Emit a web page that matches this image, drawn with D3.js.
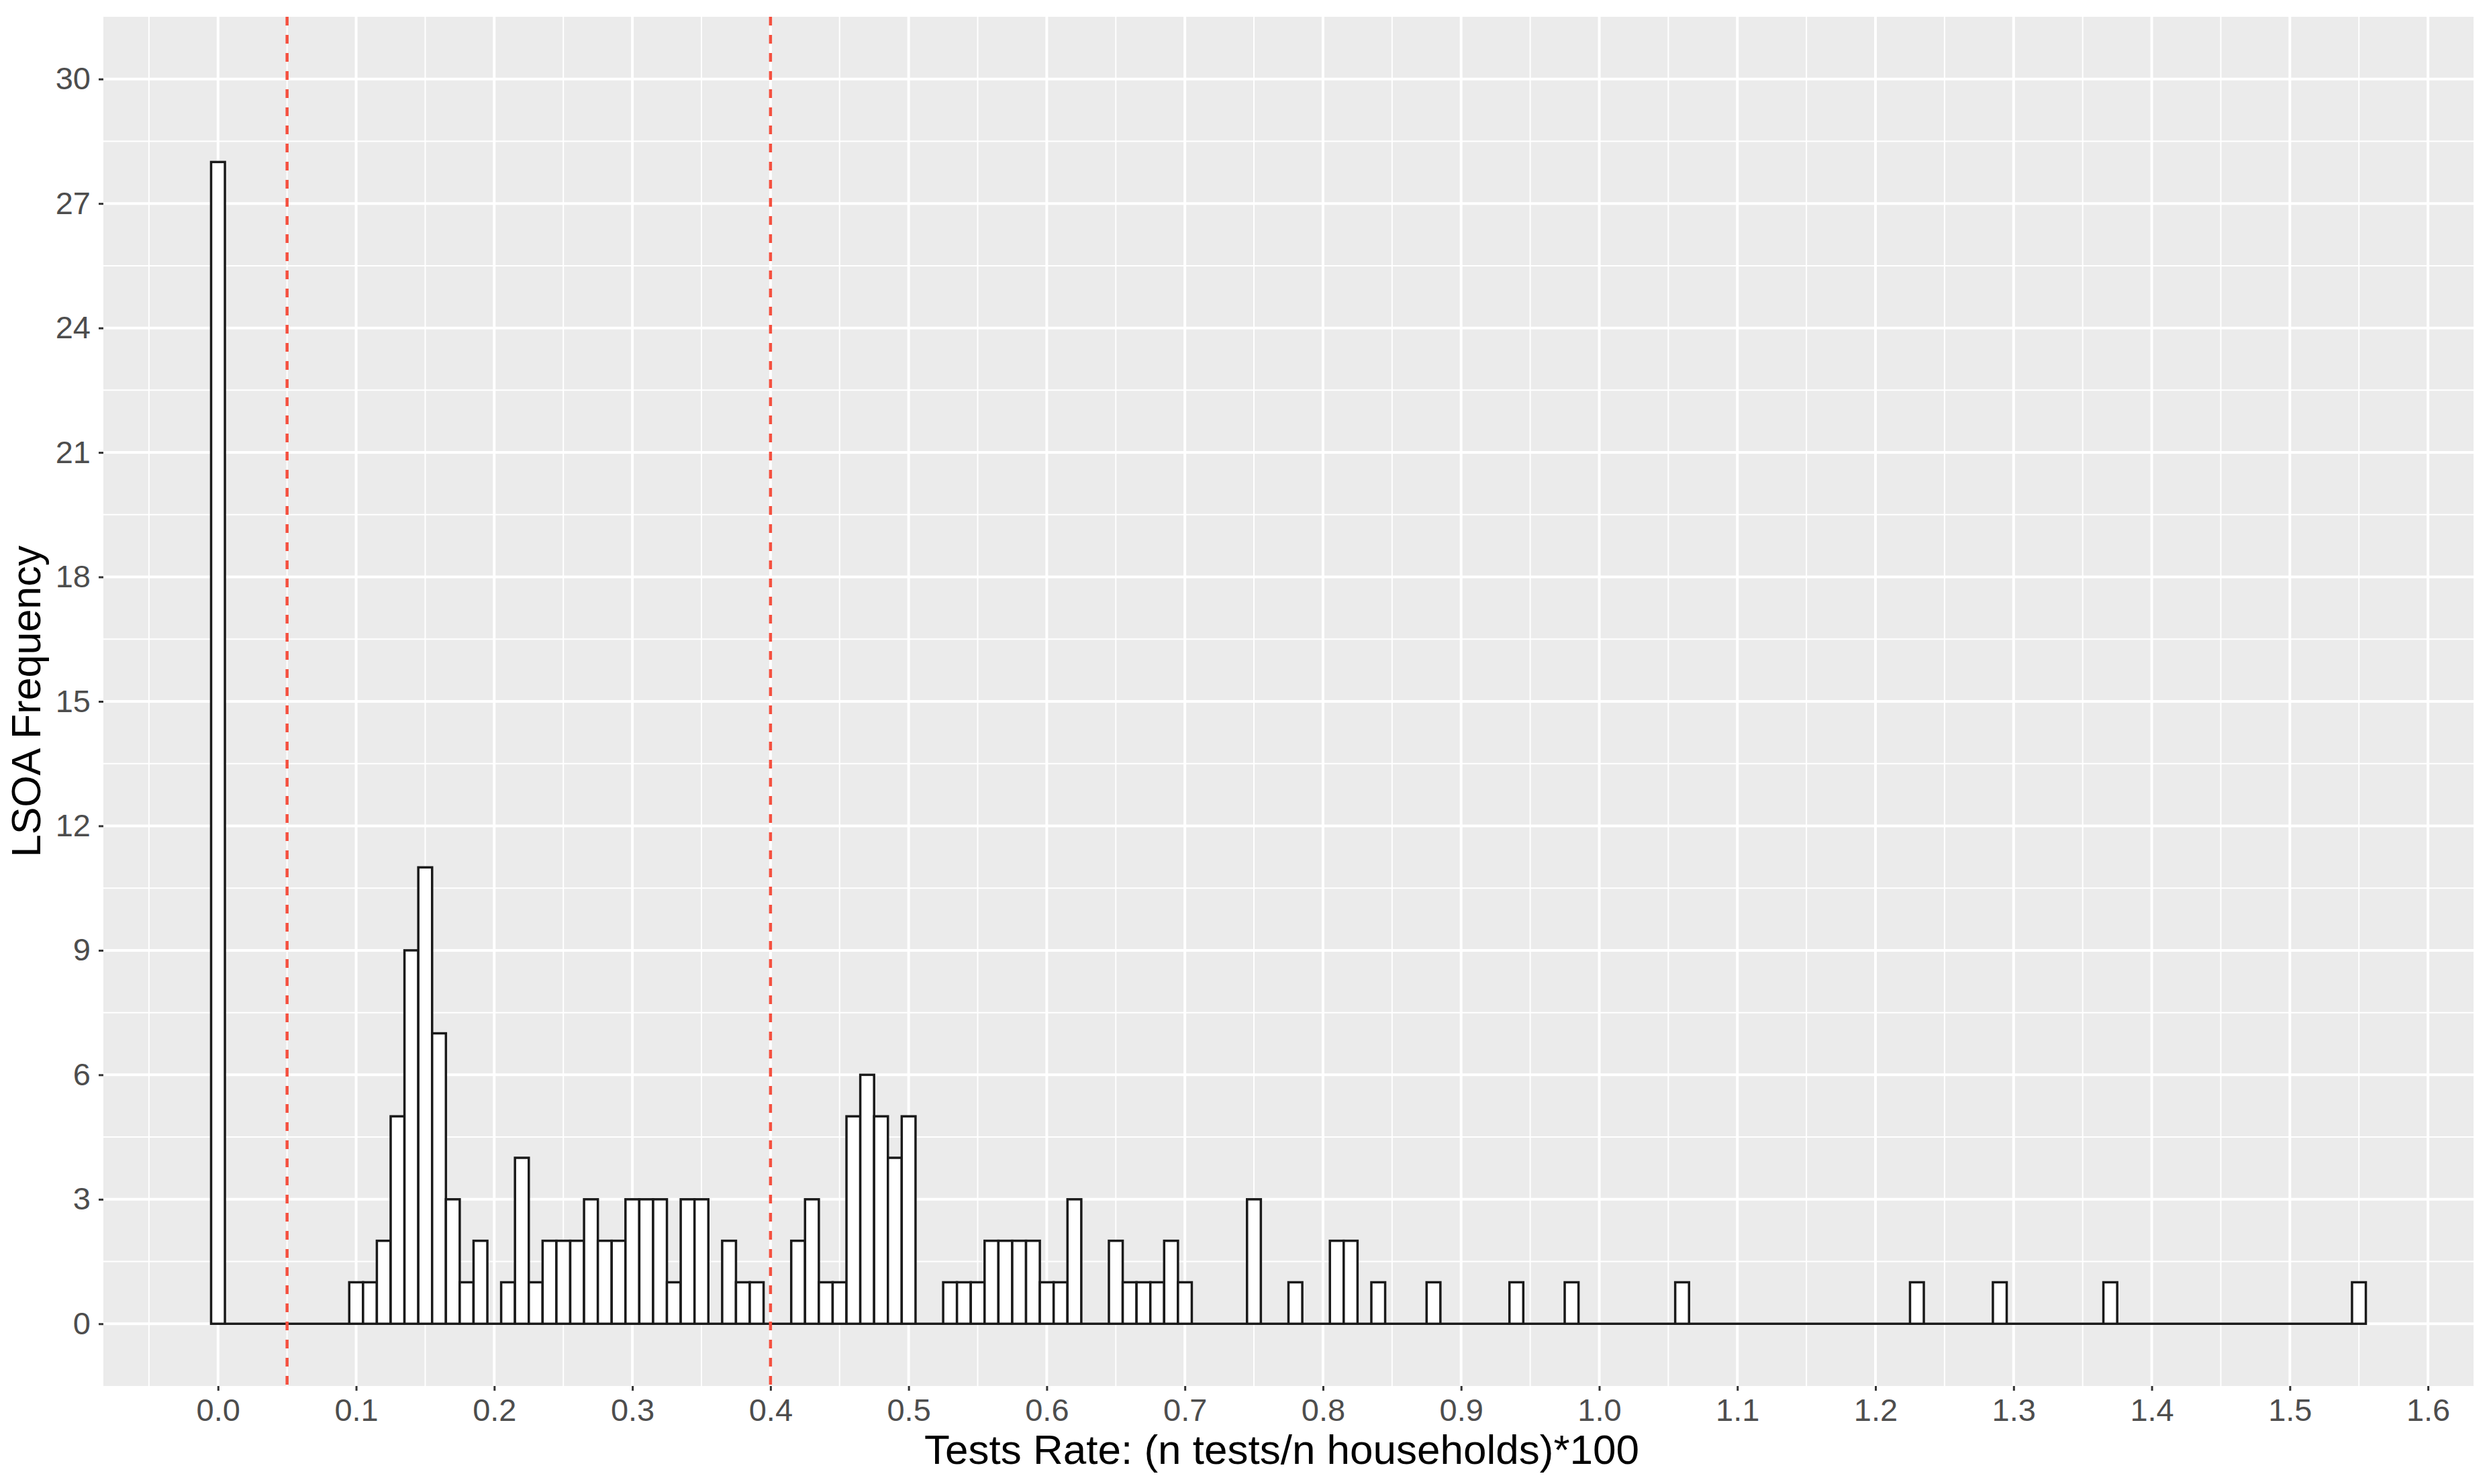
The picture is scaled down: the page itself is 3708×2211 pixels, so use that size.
<!DOCTYPE html>
<html>
<head>
<meta charset="utf-8">
<script src="https://cdn.jsdelivr.net/npm/d3@7"></script>
<style>
  html, body { margin: 0; padding: 0; background: #fff; }
  svg { display: block; font-family: "Liberation Sans", Arial, sans-serif; }
</style>
</head>
<body>
<div id="chart"></div>
<script>
// histogram bins (centre of each 0.01 bin) that have at least one LSOA
const rateBins = [
    0.00, 0.10, 0.11, 0.12, 0.13, 0.14, 0.15, 0.16, 0.17, 0.18, 0.19,
    0.21, 0.22, 0.23, 0.24, 0.25, 0.26, 0.27, 0.28, 0.29, 0.30, 0.31,
    0.32, 0.33, 0.34, 0.35, 0.37, 0.38, 0.39, 0.42, 0.43, 0.44, 0.45,
    0.46, 0.47, 0.48, 0.49, 0.50, 0.53, 0.54, 0.55, 0.56, 0.57, 0.58,
    0.59, 0.60, 0.61, 0.62, 0.65, 0.66, 0.67, 0.68, 0.69, 0.70, 0.75,
    0.78, 0.81, 0.82, 0.84, 0.88, 0.94, 0.98, 1.06, 1.23, 1.29, 1.37,
    1.55
];
const lsoaCounts = [
    28, 1, 1, 2, 5, 9, 11, 7, 3, 1, 2,
    1, 4, 1, 2, 2, 2, 3, 2, 2, 3, 3,
    3, 1, 3, 3, 2, 1, 1, 2, 3, 1, 1,
    5, 6, 5, 4, 5, 1, 1, 1, 2, 2, 2,
    2, 1, 1, 3, 2, 1, 1, 1, 2, 1, 3,
    1, 2, 2, 1, 1, 1, 1, 1, 1, 1, 1,
    1
];
const binWidth = 0.01;
const cutoffs = [0.05, 0.4];

const xTicks = [0, 0.1, 0.2, 0.3, 0.4, 0.5, 0.6, 0.7, 0.8, 0.9, 1.0, 1.1, 1.2, 1.3, 1.4, 1.5, 1.6];
const xMinor = [-0.05, 0.05, 0.15, 0.25, 0.35, 0.45, 0.55, 0.65, 0.75, 0.85, 0.95, 1.05, 1.15, 1.25, 1.35, 1.45, 1.55];
const yTicks = [0, 3, 6, 9, 12, 15, 18, 21, 24, 27, 30];
const yMinor = [1.5, 4.5, 7.5, 10.5, 13.5, 16.5, 19.5, 22.5, 25.5, 28.5];

const xTitle = "Tests Rate: (n tests/n households)*100";
const yTitle = "LSOA Frequency";

const bins = rateBins.map((r, i) => ({ rate: r, count: lsoaCounts[i] }));

//layout
const width = 3708;
const height = 2211;
const margin = { top: 25, right: 23, bottom: 146, left: 154 };
const innerW = width - margin.left - margin.right;
const innerH = height - margin.top - margin.bottom;

// ggplot style 5% expansion
const xLo = d3.min(rateBins) - binWidth / 2;
const xHi = d3.max(rateBins) + binWidth / 2;
const xPad = (xHi - xLo) * 0.05;
const x = d3.scaleLinear()
    .domain([xLo - xPad, xHi + xPad])
    .range([margin.left, margin.left + innerW]);

const yMax = d3.max(yTicks);
const y = d3.scaleLinear()
    .domain([-yMax * 0.05, yMax * 1.05])
    .range([margin.top + innerH, margin.top]);

const svg = d3.select("#chart")
    .append("svg")
    .attr("width", width)
    .attr("height", height);

svg.append("rect")
    .attr("width", width)
    .attr("height", height)
    .attr("fill", "#fff");

// panel
svg.append("rect")
    .attr("x", margin.left)
    .attr("y", margin.top)
    .attr("width", innerW)
    .attr("height", innerH)
    .attr("fill", "#ebebeb");

const grid = svg.append("g");

grid.selectAll(".xminor")
    .data(xMinor)
    .enter()
    .append("line")
    .attr("x1", d => x(d)).attr("x2", d => x(d))
    .attr("y1", margin.top).attr("y2", margin.top + innerH)
    .attr("stroke", "#fff")
    .attr("stroke-width", 2);

grid.selectAll(".yminor")
    .data(yMinor)
    .enter()
    .append("line")
    .attr("x1", margin.left).attr("x2", margin.left + innerW)
    .attr("y1", d => y(d)).attr("y2", d => y(d))
    .attr("stroke", "#fff")
    .attr("stroke-width", 2);

grid.selectAll(".xmajor")
    .data(xTicks)
    .enter()
    .append("line")
    .attr("x1", d => x(d)).attr("x2", d => x(d))
    .attr("y1", margin.top).attr("y2", margin.top + innerH)
    .attr("stroke", "#fff")
    .attr("stroke-width", 4);

grid.selectAll(".ymajor")
    .data(yTicks)
    .enter()
    .append("line")
    .attr("x1", margin.left).attr("x2", margin.left + innerW)
    .attr("y1", d => y(d)).attr("y2", d => y(d))
    .attr("stroke", "#fff")
    .attr("stroke-width", 4);

// zero count bins show up as a flat outline along the baseline
svg.append("line")
    .attr("x1", x(xLo))
    .attr("x2", x(xHi))
    .attr("y1", y(0))
    .attr("y2", y(0))
    .attr("stroke", "#1a1a1a")
    .attr("stroke-width", 3.5);

// bars
svg.append("g")
    .selectAll("rect")
    .data(bins)
    .enter()
    .append("rect")
    .attr("x", d => x(d.rate - binWidth / 2))
    .attr("y", d => y(d.count))
    .attr("width", d => x(d.rate + binWidth / 2) - x(d.rate - binWidth / 2))
    .attr("height", d => y(0) - y(d.count))
    .attr("fill", "#fff")
    .attr("stroke", "#1a1a1a")
    .attr("stroke-width", 3.5);

// cut-off lines
svg.append("g")
    .selectAll("line")
    .data(cutoffs)
    .enter()
    .append("line")
    .attr("x1", d => x(d)).attr("x2", d => x(d))
    .attr("y1", margin.top).attr("y2", margin.top + innerH)
    .attr("stroke", "#f5503f")
    .attr("stroke-width", 4.5)
    .attr("stroke-dasharray", "13,14");

// x axis
const xAxis = svg.append("g")
    .attr("transform", `translate(0,${margin.top + innerH})`)
    .call(d3.axisBottom(x).tickValues(xTicks).tickFormat(d3.format(".1f")).tickSize(7).tickPadding(12));
xAxis.select(".domain").remove();
xAxis.selectAll(".tick line").attr("stroke", "#333").attr("stroke-width", 3);
xAxis.selectAll(".tick text")
    .attr("fill", "#4d4d4d")
    .style("font-size", "47px")
    .style("font-family", "'Liberation Sans', Arial, sans-serif");

// y axis
const yAxis = svg.append("g")
    .attr("transform", `translate(${margin.left},0)`)
    .call(d3.axisLeft(y).tickValues(yTicks).tickSize(7).tickPadding(12));
yAxis.select(".domain").remove();
yAxis.selectAll(".tick line").attr("stroke", "#333").attr("stroke-width", 3);
yAxis.selectAll(".tick text")
    .attr("fill", "#4d4d4d")
    .style("font-size", "47px")
    .style("font-family", "'Liberation Sans', Arial, sans-serif");

// titles
svg.append("text")
    .attr("x", margin.left + innerW / 2 - 10)
    .attr("y", 2181)
    .attr("text-anchor", "middle")
    .attr("fill", "#000")
    .style("font-size", "62px")
    .text(xTitle);

svg.append("text")
    .attr("transform", `translate(60,${margin.top + innerH / 2}) rotate(-90)`)
    .attr("text-anchor", "middle")
    .attr("fill", "#000")
    .style("font-size", "61px")
    .text(yTitle);
</script>
</body>
</html>
